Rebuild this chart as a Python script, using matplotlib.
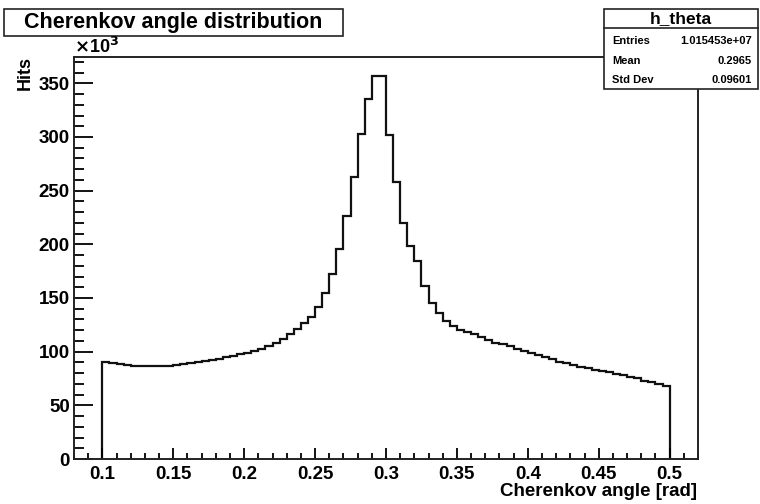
import numpy as np
import matplotlib
matplotlib.use("Agg")
import matplotlib.pyplot as plt
from matplotlib.patches import Rectangle

plt.rcParams['font.family'] = ['Liberation Sans', 'DejaVu Sans']
plt.rcParams['font.weight'] = 'bold'

# histogram h_theta: 80 bins from 0.1 to 0.5, contents in units of 10^3 hits
n_bins = 80
x_lo, x_hi = 0.1, 0.5
hits_k = [
    90.8, 89.8, 88.3, 87.2, 86.6, 86.3, 86.2, 86.4, 86.7, 87.1,
    87.7, 88.4, 89.3, 90.2, 91.2, 92.4, 93.6, 94.8, 96.0, 97.5,
    99.0, 100.8, 102.8, 105.0, 108.0, 111.5, 116.0, 121.0, 126.5, 132.7,
    142.0, 154.5, 172.0, 196.0, 226.7, 263.0, 302.8, 335.7, 357.0, 357.0,
    302.0, 258.0, 220.0, 198.0, 184.5, 161.5, 145.7, 135.8, 129.0, 124.3,
    120.6, 118.1, 116.0, 113.5, 111.0, 108.5, 106.8, 105.0, 102.8, 100.6,
    98.6, 96.8, 95.0, 92.8, 90.8, 89.2, 87.7, 86.1, 84.6, 83.3,
    82.0, 80.6, 79.3, 78.0, 76.8, 75.2, 73.0, 71.3, 69.8, 68.4,
]
stat_names = ["Entries", "Mean", "Std Dev"]
stat_values = ["1.015453e+07", "0.2965", "0.09601"]
hist_name = "h_theta"
title = "Cherenkov angle distribution"
xlabel = "Cherenkov angle [rad]"
ylabel = "Hits"

W, H = 760, 504


def fx(x):
    return x / W


def fy(y):
    return 1 - y / H


fig = plt.figure(figsize=(7.6, 5.04), dpi=100)
ax = fig.add_axes([fx(74), fy(459), fx(698) - fx(74), fy(57) - fy(459)])

edges = np.linspace(x_lo, x_hi, n_bins + 1)
ax.stairs(hits_k, edges, baseline=0, color='#111111', linewidth=1.6)

ax.set_xlim(0.08, 0.52)
ax.set_ylim(0, 374.5)
ax.set_xticks(np.arange(0.1, 0.501, 0.05))
ax.set_xticklabels(["0.1", "0.15", "0.2", "0.25", "0.3", "0.35", "0.4", "0.45", "0.5"])
ax.set_xticks(np.arange(0.08, 0.521, 0.01), minor=True)
ax.set_yticks(np.arange(0, 351, 50))
ax.set_yticks(np.arange(0, 371, 10), minor=True)

ax.tick_params(axis='x', which='major', direction='in', length=8, width=1.3, labelsize=13.5, pad=5)
ax.tick_params(axis='x', which='minor', direction='in', length=4, width=1.3)
ax.tick_params(axis='y', which='major', direction='in', length=14, width=1.3, labelsize=13.5, pad=3)
ax.tick_params(axis='y', which='minor', direction='in', length=7, width=1.3)
for lab in ax.get_xticklabels() + ax.get_yticklabels():
    lab.set_fontweight('bold')
for s in ax.spines.values():
    s.set_linewidth(1.4)
    s.set_color('#222222')

fig.text(fx(697), fy(491), xlabel, ha='right', va='center', fontsize=13.5, fontweight='bold')
fig.text(fx(25), fy(56), ylabel, ha='center', va='top', rotation=90, fontsize=13, fontweight='bold')
fig.text(fx(74), fy(47), r"$\times$10$^{3}$", ha='left', va='center', fontsize=13, fontweight='bold')

# title box
fig.add_artist(Rectangle((fx(4), fy(36)), fx(343) - fx(4), fy(9) - fy(36),
                         transform=fig.transFigure, facecolor='white', edgecolor='#222222', linewidth=1.2))
fig.text(fx(173.5), fy(22.5), title, ha='center', va='center', fontsize=15.5, fontweight='bold')

# stats box
fig.add_artist(Rectangle((fx(604), fy(89)), fx(758) - fx(604), fy(9) - fy(89),
                         transform=fig.transFigure, facecolor='white', edgecolor='#222222',
                         linewidth=1.2, zorder=5))
fig.add_artist(plt.Line2D([fx(604), fx(758)], [fy(28), fy(28)], transform=fig.transFigure,
                          color='#222222', linewidth=1.2, zorder=6))
fig.text(fx(681), fy(18.5), hist_name, ha='center', va='center', fontsize=12.5, fontweight='bold', zorder=7)
for i, (nm, val) in enumerate(zip(stat_names, stat_values)):
    yy = fy(40.7 + 19.8 * i)
    fig.text(fx(612), yy, nm, ha='left', va='center', fontsize=8, fontweight='bold', zorder=7)
    fig.text(fx(752), yy, val, ha='right', va='center', fontsize=8, fontweight='bold', zorder=7)

fig.savefig("out.png", dpi=100)
